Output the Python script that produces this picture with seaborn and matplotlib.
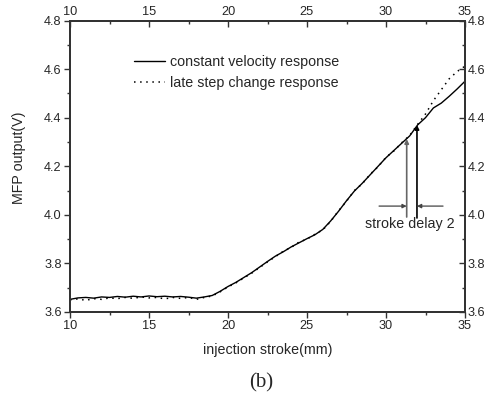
import numpy as np
import pandas as pd
import matplotlib
matplotlib.use("Agg")
import matplotlib.pyplot as plt
import seaborn as sns
from matplotlib.ticker import MultipleLocator

stroke = [10.0, 10.5, 11.0, 11.5, 12.0, 12.5, 13.0, 13.5, 14.0, 14.5,
          15.0, 15.5, 16.0, 16.5, 17.0, 17.5, 18.0, 18.5, 19.0, 19.5,
          20.0, 20.5, 21.0, 21.5, 22.0, 22.5, 23.0, 23.5, 24.0, 24.5,
          25.0, 25.5, 26.0, 26.5, 27.0, 27.5, 28.0, 28.5, 29.0, 29.5,
          30.0, 30.5, 31.0, 31.5, 32.0, 32.5, 33.0, 33.5, 34.0, 34.5, 35.0]

constant_velocity = [3.652, 3.658, 3.660, 3.657, 3.662, 3.660, 3.664, 3.661, 3.665, 3.662,
                     3.666, 3.663, 3.665, 3.662, 3.664, 3.661, 3.657, 3.662, 3.668, 3.685,
                     3.705, 3.722, 3.742, 3.762, 3.785, 3.808, 3.830, 3.848, 3.868, 3.885,
                     3.902, 3.918, 3.940, 3.975, 4.015, 4.058, 4.098, 4.130, 4.165, 4.200,
                     4.235, 4.265, 4.295, 4.325, 4.370, 4.400, 4.440, 4.460, 4.488, 4.518, 4.550]

late_step = [3.650, 3.654, 3.648, 3.655, 3.652, 3.658, 3.655, 3.660, 3.656, 3.662,
             3.658, 3.660, 3.654, 3.660, 3.656, 3.660, 3.652, 3.660, 3.666, 3.683,
             3.703, 3.720, 3.740, 3.760, 3.783, 3.806, 3.828, 3.850, 3.866, 3.888,
             3.900, 3.920, 3.938, 3.973, 4.017, 4.056, 4.100, 4.128, 4.167, 4.198,
             4.237, 4.263, 4.297, 4.327, 4.372, 4.415, 4.470, 4.515, 4.560, 4.590, 4.612]

series_names = ["constant velocity response", "late step change response"]
x_ticks = [10, 15, 20, 25, 30, 35]
y_ticks = [3.6, 3.8, 4.0, 4.2, 4.4, 4.6, 4.8]

sns.set_style("white")
plt.rcParams['font.family'] = ['Liberation Sans', 'DejaVu Sans']
FS = 10.3   # labels, legend, annotation
TFS = 9.2   # tick labels

df = pd.DataFrame({
    "stroke": stroke * 2,
    "value": constant_velocity + late_step,
    "series": [series_names[0]] * len(stroke) + [series_names[1]] * len(stroke),
})

fig = plt.figure(figsize=(4.93, 3.94), dpi=100)
ax = fig.add_axes([70/493, 1 - 312/394, 395/493, 291.5/394])

sns.lineplot(data=df[df.series == series_names[0]], x="stroke", y="value",
             ax=ax, color="black", lw=1.0, label=series_names[0])
sns.lineplot(data=df[df.series == series_names[1]], x="stroke", y="value",
             ax=ax, color="black", lw=1.1, linestyle=(0, (1, 3)), label=series_names[1])

ax.set_xlim(10, 35)
ax.set_ylim(3.6, 4.8)
ax.set_xticks(x_ticks)
ax.set_yticks(y_ticks)
ax.set_xticklabels([str(t) for t in x_ticks], fontsize=TFS)
ax.set_yticklabels([f"{t:.1f}" for t in y_ticks], fontsize=TFS)
ax.xaxis.set_minor_locator(MultipleLocator(2.5))
ax.yaxis.set_minor_locator(MultipleLocator(0.1))
ax.tick_params(which="major", direction="out", length=4, width=1, color="#333333", pad=2)
ax.tick_params(which="minor", direction="out", length=2.5, width=1, color="#333333")
ax.set_xlabel("injection stroke(mm)", fontsize=FS, va="center")
ax.set_ylabel("MFP output(V)", fontsize=FS, va="center")
ax.xaxis.set_label_coords((268 - 70) / 395, (312 - 350) / 291.5)
ax.yaxis.set_label_coords((19 - 70) / 395, (312 - 158) / 291.5)
for s in ax.spines.values():
    s.set_linewidth(1.3)
    s.set_color("#333333")

axt = ax.twiny()
axt.set_xlim(10, 35)
axt.set_xticks(x_ticks)
axt.set_xticklabels([str(t) for t in x_ticks], fontsize=TFS)
axt.xaxis.set_minor_locator(MultipleLocator(2.5))
axt.tick_params(which="major", direction="in", length=4, width=1, color="#333333", pad=2)
axt.tick_params(which="minor", direction="in", length=2.5, width=1, color="#333333")

axr = ax.twinx()
axr.set_ylim(3.6, 4.8)
axr.set_yticks(y_ticks)
axr.set_yticklabels([f"{t:.1f}" for t in y_ticks], fontsize=TFS)
axr.yaxis.set_minor_locator(MultipleLocator(0.1))
axr.tick_params(which="major", direction="in", length=4, width=1, color="#333333", pad=2)
axr.tick_params(which="minor", direction="in", length=2.5, width=1, color="#333333")
for a in (axt, axr):
    for s in a.spines.values():
        s.set_linewidth(1.3)
        s.set_color("#333333")

leg = ax.legend(loc="upper left", bbox_to_anchor=((134 - 70) / 395, (312 - 55) / 291.5),
                frameon=False, fontsize=FS, handlelength=2.2, handletextpad=0.35,
                labelspacing=0.5, borderpad=0, borderaxespad=0)

# stroke delay annotation
ax.annotate("", xy=(31.31, 4.312), xytext=(31.31, 3.991),
            arrowprops=dict(arrowstyle="-|>", color="#666666", lw=1.2,
                            mutation_scale=6, shrinkA=0, shrinkB=0))
ax.annotate("", xy=(31.96, 4.370), xytext=(31.96, 3.987),
            arrowprops=dict(arrowstyle="-|>", color="black", lw=1.2,
                            mutation_scale=6, shrinkA=0, shrinkB=0))
ax.annotate("", xy=(31.31, 4.036), xytext=(29.56, 4.036),
            arrowprops=dict(arrowstyle="-|>", color="#444444", lw=0.9,
                            mutation_scale=6, shrinkA=0, shrinkB=0))
ax.annotate("", xy=(31.96, 4.036), xytext=(33.61, 4.036),
            arrowprops=dict(arrowstyle="-|>", color="#444444", lw=0.9,
                            mutation_scale=6, shrinkA=0, shrinkB=0))
ax.text(31.5, 3.962, "stroke delay 2", fontsize=FS, ha="center", va="center")

fig.text(261 / 493, 1 - 383 / 394, "(b)", fontsize=15,
         family=["Liberation Serif", "DejaVu Serif"], ha="center", va="center")

fig.savefig("out.png", dpi=100)
